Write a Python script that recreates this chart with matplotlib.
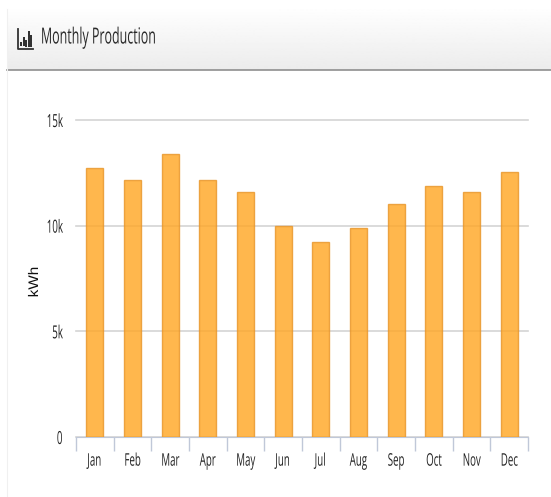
import numpy as np
import matplotlib.pyplot as plt
import matplotlib.patheffects as pe
from matplotlib.patches import Rectangle
from matplotlib.transforms import Affine2D

# dados do grafico
meses = ['Jan', 'Feb', 'Mar', 'Apr', 'May', 'Jun', 'Jul', 'Aug', 'Sep', 'Oct', 'Nov', 'Dec']
producao = [12730, 12160, 13390, 12160, 11590, 9985, 9230, 9890, 11025, 11880, 11590, 12540]
ticks_y = [0, 5000, 10000, 15000]
labels_y = ['0', '5k', '10k', '15k']
titulo = 'Monthly Production'
icone_alturas = [0.3, 0.6, 0.4, 0.95, 0.75]


# o texto da referencia esta comprimido na horizontal
class Estreito(pe.AbstractPathEffect):
    def __init__(self, sx, pivo=0.0):
        super().__init__()
        self.sx = sx
        self.pivo = pivo

    def draw_path(self, renderer, gc, tpath, affine, rgbFace=None):
        ext = tpath.get_extents()
        px = ext.x0 + self.pivo * ext.width
        t = Affine2D().translate(-px, 0).scale(self.sx, 1).translate(px, 0)
        renderer.draw_path(gc, tpath, t + affine, rgbFace)


L, A = 551, 497
plt.rcParams['font.family'] = ['Open Sans', 'DejaVu Sans']
fig = plt.figure(figsize=(L / 100, A / 100), dpi=100)

# cabecalho com gradiente
fundo = fig.add_axes([0, 0, 1, 1])
grad = np.linspace(0.995, 0.925, 60).reshape(-1, 1)
fundo.imshow(grad, cmap='gray', vmin=0, vmax=1, extent=[7, L, 70, 9], aspect='auto')
fundo.set_xlim(0, L)
fundo.set_ylim(A, 0)
fundo.axis('off')
fundo.plot([7, L], [70, 70], color='#8f8f8f', lw=1.2)
fundo.plot([7, 7], [9, 497], color='#f0f0f0', lw=0.8)
tt = fundo.text(40, 38, titulo, fontsize=16, color='#2a2a2a', va='center', ha='left')
tt.set_path_effects([Estreito(0.56)])

# icone de barras
fundo.plot([17.5, 17.5, 33], [29, 49, 49], color='#333333', lw=1.3)
for i, h in enumerate(icone_alturas):
    fundo.add_patch(Rectangle((20 + i * 2.6, 46.5 - 16 * h), 1.9, 16 * h, color='#333333', lw=0))

# grafico
ax = fig.add_axes([76 / L, 1 - 437 / A, (528 - 76) / L, (437 - 120) / A])
x = np.arange(len(meses))
ax.bar(x, producao, width=0.46, color='#ffa726', alpha=0.82, edgecolor='#e8962a', linewidth=1, zorder=3)
ax.set_xlim(-0.5, 11.5)
ax.set_ylim(0, 15000)
ax.set_yticks(ticks_y)
ax.set_yticklabels(labels_y, fontsize=13, color='#222222')
ax.grid(axis='y', color='#d4d4d4', lw=1.2, zorder=1)
for g in ax.get_ygridlines():
    g.set_clip_on(False)
ax.set_axisbelow(True)
ax.tick_params(axis='y', length=0, pad=9.5)
for t in ax.get_yticklabels():
    t.set_path_effects([Estreito(0.54, 1.0)])
ax.set_xticks(x)
ax.set_xticklabels(meses, fontsize=12.5, color='#222222')
for t in ax.get_xticklabels():
    t.set_path_effects([Estreito(0.56, 0.5)])
ax.set_xticks(np.arange(-0.5, 12, 1), minor=True)
ax.tick_params(axis='x', which='major', length=0, pad=12)
ax.tick_params(axis='x', which='minor', length=10, color='#c0c8d8', width=1)
for lado in ['top', 'right', 'left']:
    ax.spines[lado].set_visible(False)
ax.spines['bottom'].set_color('#c0c8d8')
rotulo = ax.set_ylabel('kWh', fontsize=10, color='#111111', family=['Liberation Sans', 'DejaVu Sans'])
rotulo.set_path_effects([Estreito(1.1, 0.5)])
ax.yaxis.set_label_coords((41 - 76) / (528 - 76), (437 - 282) / (437 - 120))

plt.savefig('out.png', dpi=100)
